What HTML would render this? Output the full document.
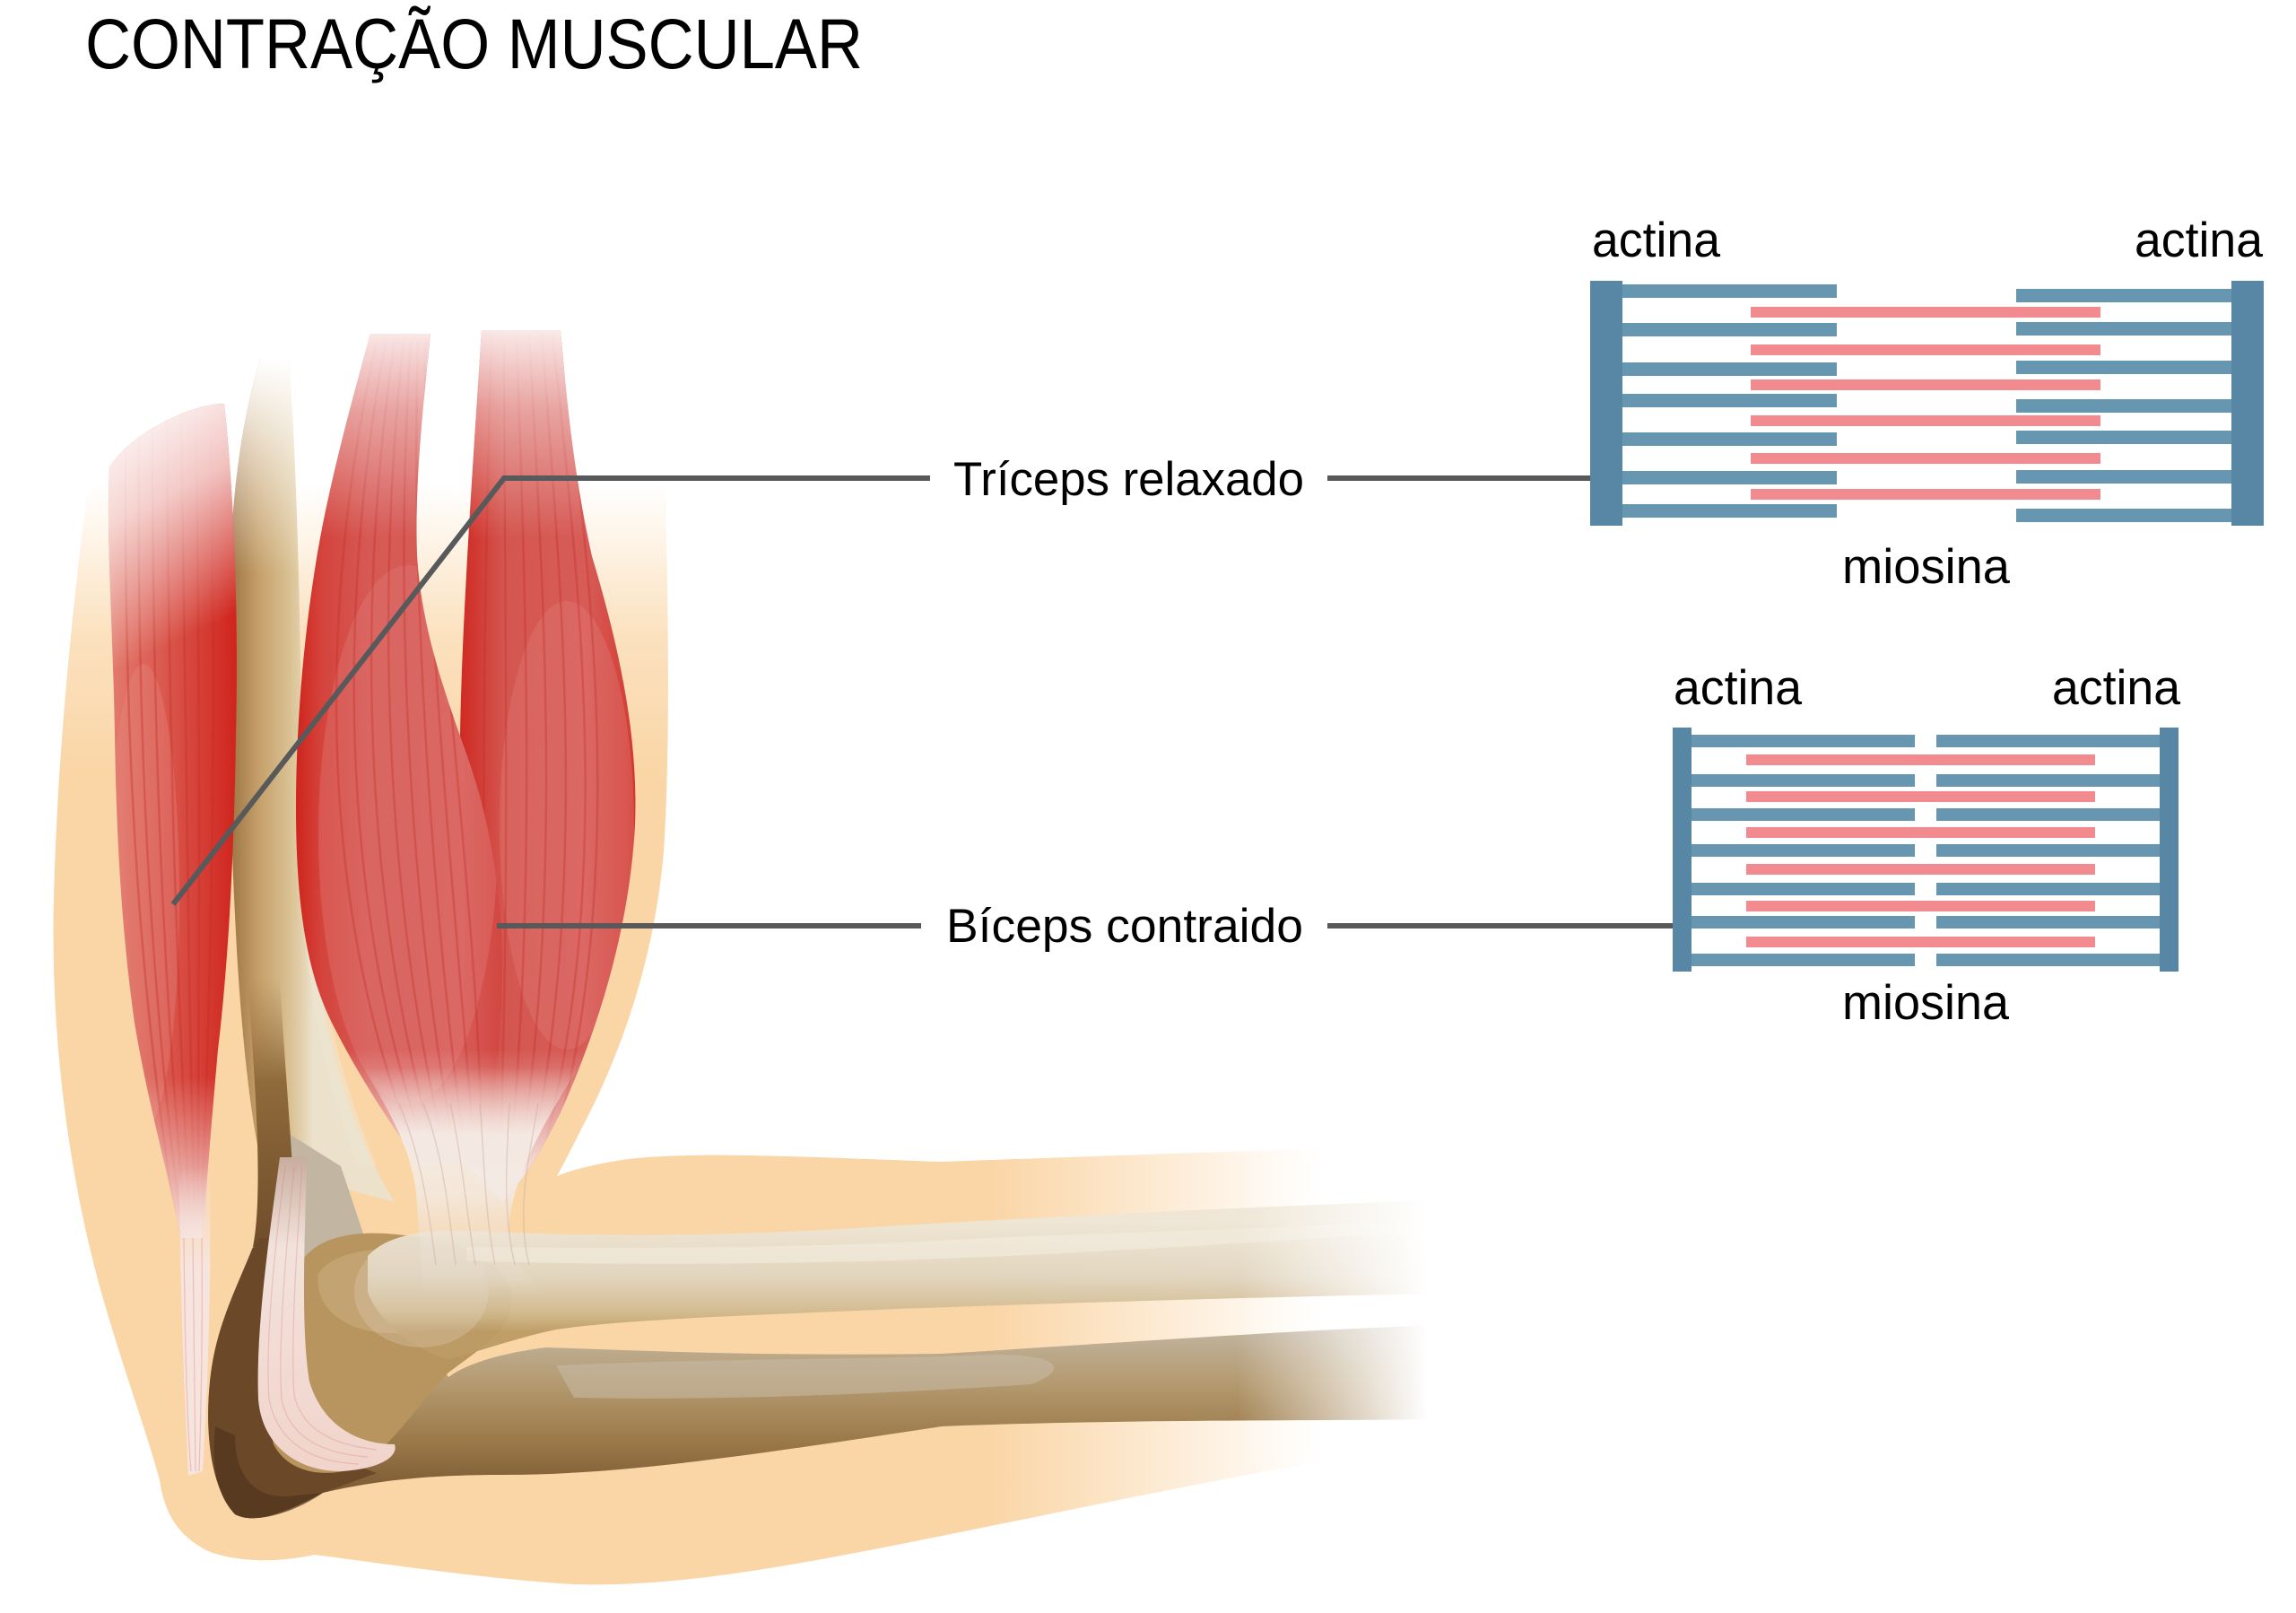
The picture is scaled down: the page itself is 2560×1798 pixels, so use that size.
<!DOCTYPE html>
<html>
<head>
<meta charset="utf-8">
<style>
html,body{margin:0;padding:0;background:#fff;}
body{width:2560px;height:1798px;overflow:hidden;}
svg{display:block;}
text{font-family:"Liberation Sans",Arial,sans-serif;fill:#000;}
</style>
</head>
<body>
<svg width="2560" height="1798" viewBox="0 0 2560 1798" xmlns="http://www.w3.org/2000/svg">
<defs>
  <!-- clip paths -->
  <clipPath id="cpTop"><rect x="0" y="0" width="2560" height="1000"/></clipPath>
  <clipPath id="cpBot"><rect x="0" y="1000" width="2560" height="798"/></clipPath>
  <clipPath id="cpTri"><path d="M 122 520 C 150 480, 215 450, 250 450 C 262 560, 266 700, 263 820 C 261 950, 255 1070, 243 1170 C 236 1250, 230 1320, 226 1380 L 202 1380 C 188 1310, 165 1230, 150 1140 C 136 1040, 130 940, 128 820 C 126 700, 118 600, 122 520 Z"/></clipPath>
  <clipPath id="cpBL"><path d="M 413 372 L 480 372 C 472 450, 462 540, 465 620 C 470 700, 495 770, 520 840 C 545 910, 560 990, 560 1080 C 560 1160, 550 1230, 540 1290 L 470 1300 C 440 1260, 400 1200, 370 1140 C 340 1080, 330 1000, 330 900 C 330 780, 345 650, 365 560 C 380 490, 400 420, 413 372 Z"/></clipPath>
  <clipPath id="cpBR"><path d="M 537 368 L 625 368 C 632 450, 640 530, 660 620 C 690 720, 712 820, 708 920 C 702 1030, 670 1140, 625 1240 C 600 1290, 580 1320, 560 1340 L 520 1300 C 530 1200, 535 1100, 530 1000 C 525 940, 515 880, 513 820 C 515 700, 525 550, 537 368 Z"/></clipPath>

  <!-- skin -->
  <linearGradient id="skinV" gradientUnits="userSpaceOnUse" x1="0" y1="540" x2="0" y2="870">
    <stop offset="0" stop-color="#fad5a5" stop-opacity="0"/>
    <stop offset="0.5" stop-color="#fad5a5" stop-opacity="0.7"/>
    <stop offset="1" stop-color="#fad5a5" stop-opacity="1"/>
  </linearGradient>
  <linearGradient id="skinH" gradientUnits="userSpaceOnUse" x1="1100" y1="0" x2="1475" y2="0">
    <stop offset="0" stop-color="#fad5a5" stop-opacity="1"/>
    <stop offset="1" stop-color="#fad5a5" stop-opacity="0"/>
  </linearGradient>

  <!-- white fades -->
  <linearGradient id="wTri" gradientUnits="userSpaceOnUse" x1="110" y1="450" x2="230" y2="700">
    <stop offset="0" stop-color="#fff" stop-opacity="1"/>
    <stop offset="0.45" stop-color="#fff" stop-opacity="0.7"/>
    <stop offset="1" stop-color="#fff" stop-opacity="0"/>
  </linearGradient>
  <linearGradient id="wBic" gradientUnits="userSpaceOnUse" x1="0" y1="362" x2="0" y2="600">
    <stop offset="0" stop-color="#fff" stop-opacity="0.9"/>
    <stop offset="0.4" stop-color="#fff" stop-opacity="0.45"/>
    <stop offset="1" stop-color="#fff" stop-opacity="0"/>
  </linearGradient>
  <linearGradient id="wHum" gradientUnits="userSpaceOnUse" x1="0" y1="400" x2="0" y2="640">
    <stop offset="0" stop-color="#fff" stop-opacity="1"/>
    <stop offset="1" stop-color="#fff" stop-opacity="0"/>
  </linearGradient>
  <linearGradient id="wRight" gradientUnits="userSpaceOnUse" x1="1380" y1="0" x2="1592" y2="0">
    <stop offset="0" stop-color="#fff" stop-opacity="0"/>
    <stop offset="1" stop-color="#fff" stop-opacity="1"/>
  </linearGradient>

  <!-- fills -->
  <linearGradient id="humG" gradientUnits="userSpaceOnUse" x1="255" y1="0" x2="350" y2="0">
    <stop offset="0" stop-color="#9a7242"/>
    <stop offset="0.35" stop-color="#c59f69"/>
    <stop offset="0.75" stop-color="#dbc497"/>
    <stop offset="1" stop-color="#ece2cc"/>
  </linearGradient>
  <linearGradient id="darkStrip" gradientUnits="userSpaceOnUse" x1="0" y1="1090" x2="0" y2="1420">
    <stop offset="0" stop-color="#a47e4c" stop-opacity="0"/>
    <stop offset="0.35" stop-color="#8f6a3b"/>
    <stop offset="1" stop-color="#6b4828"/>
  </linearGradient>
  <linearGradient id="triG" gradientUnits="userSpaceOnUse" x1="122" y1="0" x2="266" y2="0">
    <stop offset="0" stop-color="#e27b6e"/>
    <stop offset="0.4" stop-color="#da5a50"/>
    <stop offset="0.75" stop-color="#d43b32"/>
    <stop offset="1" stop-color="#cf231b"/>
  </linearGradient>
  <linearGradient id="triBot" gradientUnits="userSpaceOnUse" x1="0" y1="1200" x2="0" y2="1380">
    <stop offset="0" stop-color="#f8e8e4" stop-opacity="0"/>
    <stop offset="1" stop-color="#f8ebe7" stop-opacity="0.95"/>
  </linearGradient>
  <linearGradient id="triTend" gradientUnits="userSpaceOnUse" x1="0" y1="1300" x2="0" y2="1410">
    <stop offset="0" stop-color="#f6e4de" stop-opacity="0"/>
    <stop offset="1" stop-color="#f6e4de" stop-opacity="1"/>
  </linearGradient>
  <linearGradient id="bicLG" gradientUnits="userSpaceOnUse" x1="330" y1="0" x2="562" y2="0">
    <stop offset="0" stop-color="#cf241c"/>
    <stop offset="0.12" stop-color="#d4433b"/>
    <stop offset="0.35" stop-color="#d65955"/>
    <stop offset="0.8" stop-color="#d75c58"/>
    <stop offset="1" stop-color="#d2453f"/>
  </linearGradient>
  <linearGradient id="bicRG" gradientUnits="userSpaceOnUse" x1="513" y1="0" x2="712" y2="0">
    <stop offset="0" stop-color="#cf2a22"/>
    <stop offset="0.25" stop-color="#d45650"/>
    <stop offset="0.7" stop-color="#d75c58"/>
    <stop offset="0.93" stop-color="#d4423a"/>
    <stop offset="1" stop-color="#d0302a"/>
  </linearGradient>
  <linearGradient id="bicBot" gradientUnits="userSpaceOnUse" x1="0" y1="1170" x2="0" y2="1310">
    <stop offset="0" stop-color="#f6ebe6" stop-opacity="0"/>
    <stop offset="1" stop-color="#f7eee9" stop-opacity="0.96"/>
  </linearGradient>
  <linearGradient id="bicTend" gradientUnits="userSpaceOnUse" x1="0" y1="1190" x2="0" y2="1445">
    <stop offset="0" stop-color="#f5ece6" stop-opacity="0"/>
    <stop offset="0.3" stop-color="#f5ece6" stop-opacity="0.92"/>
    <stop offset="0.55" stop-color="#f3eae3" stop-opacity="0.85"/>
    <stop offset="0.8" stop-color="#ede3d8" stop-opacity="0.35"/>
    <stop offset="1" stop-color="#ede3d8" stop-opacity="0"/>
  </linearGradient>
  <linearGradient id="ulnaG" gradientUnits="userSpaceOnUse" x1="0" y1="1478" x2="0" y2="1692">
    <stop offset="0" stop-color="#c2b6a2"/>
    <stop offset="0.3" stop-color="#b49a70"/>
    <stop offset="0.6" stop-color="#9b7949"/>
    <stop offset="1" stop-color="#6c4a29"/>
  </linearGradient>
  <linearGradient id="radG" gradientUnits="userSpaceOnUse" x1="0" y1="1362" x2="0" y2="1485">
    <stop offset="0" stop-color="#eee6d6"/>
    <stop offset="0.5" stop-color="#e1d5bf"/>
    <stop offset="0.82" stop-color="#d1ba8f"/>
    <stop offset="1" stop-color="#bc9b64"/>
  </linearGradient>
  <linearGradient id="tendG" gradientUnits="userSpaceOnUse" x1="0" y1="1280" x2="0" y2="1645">
    <stop offset="0" stop-color="#c4a898"/>
    <stop offset="0.3" stop-color="#f2e2dc"/>
    <stop offset="1" stop-color="#f1d4cb"/>
  </linearGradient>
</defs>

<rect x="0" y="0" width="2560" height="1798" fill="#ffffff"/>

<!-- ================= ARM ================= -->
<!-- skin -->
<g clip-path="url(#cpTop)">
  <path fill="url(#skinV)" d="M 106 480 C 90 600, 65 800, 60 1000 C 56 1150, 75 1300, 110 1430 C 135 1520, 165 1600, 178 1650 C 184 1690, 200 1712, 230 1728 C 262 1742, 310 1742, 351 1733 C 420 1742, 540 1760, 640 1766 C 760 1770, 900 1742, 1050 1712 C 1200 1682, 1350 1650, 1480 1628 L 1620 1600 L 1620 1278 C 1450 1280, 1250 1288, 1050 1295 C 900 1290, 780 1283, 700 1292 C 660 1298, 635 1305, 621 1311 C 635 1285, 650 1255, 665 1225 C 700 1150, 730 1060, 740 950 C 748 830, 745 650, 740 480 Z"/>
</g>
<g clip-path="url(#cpBot)">
  <path fill="url(#skinH)" d="M 106 480 C 90 600, 65 800, 60 1000 C 56 1150, 75 1300, 110 1430 C 135 1520, 165 1600, 178 1650 C 184 1690, 200 1712, 230 1728 C 262 1742, 310 1742, 351 1733 C 420 1742, 540 1760, 640 1766 C 760 1770, 900 1742, 1050 1712 C 1200 1682, 1350 1650, 1480 1628 L 1620 1600 L 1620 1278 C 1450 1280, 1250 1288, 1050 1295 C 900 1290, 780 1283, 700 1292 C 660 1298, 635 1305, 621 1311 C 635 1285, 650 1255, 665 1225 C 700 1150, 730 1060, 740 950 C 748 830, 745 650, 740 480 Z"/>
</g>

<!-- humerus shaft -->
<path fill="url(#humG)" d="M 290 400 C 275 450, 262 520, 258 600 C 254 750, 256 900, 262 1020 C 268 1150, 280 1250, 292 1300 L 440 1340 C 405 1285, 372 1200, 357 1100 C 342 1000, 337 900, 336 800 C 334 650, 330 500, 322 400 Z"/>
<path fill="#efe6d4" opacity="0.55" d="M 338 900 C 345 1050, 370 1180, 420 1300 L 400 1300 C 365 1220, 340 1100, 332 950 Z"/>
<path fill="url(#wHum)" d="M 290 400 C 275 450, 262 520, 258 600 C 256 640, 255 660, 255 680 L 340 680 C 336 600, 330 500, 322 400 Z"/>

<!-- ulna -->
<path fill="url(#ulnaG)" d="M 300 1250 C 296 1300, 290 1350, 282 1390 C 262 1440, 240 1480, 234 1540 C 228 1600, 236 1660, 262 1688 C 285 1700, 320 1685, 360 1664 C 420 1650, 480 1644, 560 1644 C 700 1644, 850 1620, 1050 1590 C 1250 1582, 1450 1584, 1600 1582 L 1600 1477 C 1400 1485, 1200 1500, 1050 1509 C 850 1512, 700 1505, 609 1502 C 560 1508, 520 1520, 500 1535 L 420 1420 L 380 1300 Z"/>
<path fill="#c9bca8" opacity="0.55" d="M 620 1522 C 800 1514, 950 1516, 1100 1510 C 1180 1508, 1195 1526, 1150 1543 C 1000 1553, 800 1562, 640 1558 Z"/>

<!-- humerus dark strip + olecranon -->
<path fill="url(#darkStrip)" d="M 276 1090 C 284 1200, 294 1330, 282 1390 L 330 1390 C 328 1300, 318 1200, 312 1090 Z"/>
<path fill="#6b4828" d="M 288 1380 C 284 1390, 283 1392, 282 1390 C 262 1440, 240 1480, 234 1540 C 228 1600, 236 1660, 262 1688 C 285 1700, 320 1685, 360 1664 L 420 1642 C 360 1622, 322 1582, 312 1500 C 308 1450, 318 1410, 330 1380 Z"/>
<path fill="#4f341c" opacity="0.7" d="M 262 1600 C 262 1640, 280 1670, 320 1668 L 360 1664 C 330 1685, 285 1700, 262 1688 C 240 1665, 236 1630, 240 1590 Z"/>

<!-- condyle -->
<path fill="#b8955f" d="M 330 1420 C 340 1385, 380 1372, 430 1375 C 500 1380, 560 1400, 570 1440 C 575 1480, 540 1500, 500 1530 C 470 1560, 440 1610, 400 1635 C 360 1650, 320 1640, 305 1610 C 292 1560, 300 1470, 330 1420 Z"/>
<path fill="#c7a979" opacity="0.7" d="M 355 1420 C 370 1395, 420 1388, 470 1395 C 520 1402, 545 1425, 540 1450 C 520 1480, 470 1490, 420 1485 C 380 1480, 350 1455, 355 1420 Z"/>

<!-- radius -->
<path fill="url(#radG)" opacity="0.95" d="M 410 1400 C 430 1378, 470 1370, 520 1372 C 650 1378, 800 1380, 1000 1366 C 1200 1355, 1400 1345, 1600 1338 L 1600 1442 C 1400 1446, 1200 1452, 1000 1459 C 850 1466, 700 1470, 620 1482 C 580 1490, 540 1505, 500 1515 C 460 1505, 420 1470, 410 1440 Z"/>
<path fill="#f3ede0" opacity="0.6" d="M 520 1390 C 700 1392, 900 1392, 1100 1380 C 1300 1372, 1400 1370, 1600 1360 L 1600 1372 C 1400 1385, 1200 1398, 1000 1405 C 800 1410, 650 1410, 520 1405 Z"/>
<ellipse cx="470" cy="1440" rx="75" ry="62" fill="#e6ddd0" opacity="0.25"/>

<!-- right fade of forearm -->
<rect x="1378" y="1270" width="242" height="360" fill="url(#wRight)"/>

<!-- ===== muscles ===== -->
<!-- triceps -->
<path fill="url(#triG)" d="M 122 520 C 150 480, 215 450, 250 450 C 262 560, 266 700, 263 820 C 261 950, 255 1070, 243 1170 C 236 1250, 230 1320, 226 1380 L 202 1380 C 188 1310, 165 1230, 150 1140 C 136 1040, 130 940, 128 820 C 126 700, 118 600, 122 520 Z"/>
<g clip-path="url(#cpTri)">
  <ellipse cx="160" cy="1000" rx="40" ry="260" fill="#e48a80" opacity="0.35"/>
  <g fill="none" stroke="#c22a24" stroke-opacity="0.35" stroke-width="2.5">
    <path d="M 140 480 C 138 800, 150 1100, 206 1420"/>
    <path d="M 155 470 C 152 800, 165 1100, 209 1420"/>
    <path d="M 170 465 C 170 800, 180 1100, 212 1420"/>
    <path d="M 186 460 C 188 800, 196 1100, 215 1420"/>
    <path d="M 202 458 C 206 800, 210 1100, 218 1420"/>
    <path d="M 218 455 C 224 800, 222 1100, 220 1420"/>
    <path d="M 234 453 C 242 800, 236 1100, 222 1420"/>
  </g>
  <rect x="100" y="1150" width="200" height="260" fill="url(#triBot)"/>
  <rect x="100" y="430" width="200" height="420" fill="url(#wTri)"/>
</g>
<!-- triceps tendon -->
<path fill="url(#triTend)" d="M 200 1300 L 234 1300 C 236 1420, 232 1540, 226 1640 L 210 1645 C 205 1540, 200 1420, 200 1300 Z"/>
<g fill="none" stroke="#d9625a" stroke-opacity="0.3" stroke-width="1.2">
  <path d="M 205 1380 C 206 1480, 208 1580, 213 1640"/>
  <path d="M 215 1380 C 216 1480, 217 1580, 218 1640"/>
  <path d="M 225 1380 C 226 1480, 224 1580, 222 1640"/>
</g>

<!-- biceps right head -->
<path fill="url(#bicRG)" d="M 537 368 L 625 368 C 632 450, 640 530, 660 620 C 690 720, 712 820, 708 920 C 702 1030, 670 1140, 625 1240 C 600 1290, 580 1320, 560 1340 L 520 1300 C 530 1200, 535 1100, 530 1000 C 525 940, 515 880, 513 820 C 515 700, 525 550, 537 368 Z"/>
<g clip-path="url(#cpBR)">
  <ellipse cx="632" cy="920" rx="75" ry="250" fill="#e27e7c" opacity="0.35"/>
  <g fill="none" stroke="#c22a24" stroke-opacity="0.33" stroke-width="2.5">
    <path d="M 548 372 C 540 650, 535 1000, 545 1320"/>
    <path d="M 562 372 C 562 650, 570 1000, 556 1320"/>
    <path d="M 576 372 C 585 650, 600 1000, 566 1320"/>
    <path d="M 590 372 C 605 650, 630 1000, 576 1320"/>
    <path d="M 604 372 C 625 650, 660 1000, 586 1320"/>
    <path d="M 616 372 C 645 650, 690 1000, 596 1320"/>
    <path d="M 626 380 C 660 650, 705 1000, 606 1320"/>
  </g>
  <rect x="500" y="1160" width="230" height="200" fill="url(#bicBot)"/>
  <rect x="500" y="360" width="230" height="250" fill="url(#wBic)"/>
</g>

<!-- biceps left head -->
<path fill="url(#bicLG)" d="M 413 372 L 480 372 C 472 450, 462 540, 465 620 C 470 700, 495 770, 520 840 C 545 910, 560 990, 560 1080 C 560 1160, 550 1230, 540 1290 L 470 1300 C 440 1260, 400 1200, 370 1140 C 340 1080, 330 1000, 330 900 C 330 780, 345 650, 365 560 C 380 490, 400 420, 413 372 Z"/>
<g clip-path="url(#cpBL)">
  <ellipse cx="455" cy="930" rx="100" ry="300" fill="#e27e7c" opacity="0.35"/>
  <g fill="none" stroke="#c22a24" stroke-opacity="0.33" stroke-width="2.5">
    <path d="M 420 380 C 360 650, 345 1000, 470 1300"/>
    <path d="M 430 380 C 380 650, 372 1000, 480 1300"/>
    <path d="M 440 380 C 400 650, 399 1000, 490 1300"/>
    <path d="M 450 380 C 420 650, 426 1000, 500 1300"/>
    <path d="M 458 380 C 440 650, 453 1000, 510 1300"/>
    <path d="M 466 380 C 458 650, 480 1000, 520 1300"/>
    <path d="M 474 380 C 470 650, 507 1000, 530 1300"/>
    <path d="M 478 380 C 478 650, 534 1000, 538 1300"/>
  </g>
  <rect x="320" y="1160" width="250" height="160" fill="url(#bicBot)"/>
  <rect x="320" y="360" width="250" height="250" fill="url(#wBic)"/>
</g>

<!-- biceps tendon -->
<path fill="url(#bicTend)" d="M 405 1190 C 435 1240, 458 1280, 464 1330 C 468 1380, 470 1420, 472 1445 L 606 1445 C 585 1420, 568 1395, 567 1370 C 570 1320, 600 1260, 645 1190 Z"/>
<g fill="none" stroke="#c9a894" stroke-opacity="0.4" stroke-width="1.5">
  <path d="M 445 1230 C 470 1290, 478 1350, 486 1410"/>
  <path d="M 472 1230 C 495 1290, 500 1350, 508 1410"/>
  <path d="M 502 1230 C 515 1290, 520 1350, 530 1410"/>
  <path d="M 535 1230 C 540 1290, 540 1350, 552 1410"/>
  <path d="M 568 1230 C 565 1290, 560 1350, 574 1410"/>
  <path d="M 600 1230 C 590 1290, 575 1350, 590 1410"/>
</g>

<!-- elbow tendon band -->
<path fill="url(#tendG)" d="M 312 1290 C 300 1380, 285 1480, 288 1560 C 292 1610, 330 1640, 380 1640 C 420 1638, 445 1625, 440 1610 C 400 1610, 360 1590, 345 1540 C 335 1480, 340 1380, 342 1290 Z"/>
<g fill="none" stroke="#d9857c" stroke-opacity="0.35" stroke-width="1.2">
  <path d="M 318 1300 C 305 1400, 296 1500, 300 1560 C 310 1610, 350 1630, 400 1632"/>
  <path d="M 328 1300 C 318 1400, 310 1500, 314 1560 C 322 1600, 356 1620, 410 1624"/>
  <path d="M 337 1300 C 330 1400, 324 1500, 328 1555 C 336 1590, 365 1610, 420 1616"/>
</g>

<!-- connector lines -->
<g fill="none" stroke="#58595b" stroke-width="6">
  <polyline points="193,1008 562,533 1037,533"/>
  <line x1="1480" y1="533" x2="1775" y2="533"/>
  <line x1="554" y1="1032" x2="1027" y2="1032"/>
  <line x1="1480" y1="1032" x2="1866" y2="1032"/>
</g>

<!-- ================= TEXT ================= -->
<text x="95" y="76" font-size="79" textLength="867" lengthAdjust="spacingAndGlyphs">CONTRAÇÃO MUSCULAR</text>
<text x="1063" y="552" font-size="53" textLength="391" lengthAdjust="spacingAndGlyphs">Tríceps relaxado</text>
<text x="1055" y="1050" font-size="53" textLength="398" lengthAdjust="spacingAndGlyphs">Bíceps contraido</text>

<text x="1775" y="286" font-size="55" textLength="143" lengthAdjust="spacingAndGlyphs">actina</text>
<text x="2380" y="286" font-size="55" textLength="143" lengthAdjust="spacingAndGlyphs">actina</text>
<text x="2054" y="650" font-size="55" textLength="187" lengthAdjust="spacingAndGlyphs">miosina</text>

<text x="1866" y="785" font-size="55" textLength="143" lengthAdjust="spacingAndGlyphs">actina</text>
<text x="2288" y="785" font-size="55" textLength="143" lengthAdjust="spacingAndGlyphs">actina</text>
<text x="2054" y="1136" font-size="55" textLength="186" lengthAdjust="spacingAndGlyphs">miosina</text>

<!-- ================= SARCOMERE 1 (relaxed) ================= -->
<g>
  <g fill="#6796b1">
    <rect x="1809" y="317" width="239" height="15"/>
    <rect x="1809" y="360" width="239" height="15"/>
    <rect x="1809" y="404" width="239" height="15"/>
    <rect x="1809" y="439" width="239" height="15"/>
    <rect x="1809" y="482" width="239" height="15"/>
    <rect x="1809" y="525" width="239" height="15"/>
    <rect x="1809" y="562" width="239" height="15"/>
    <rect x="2248" y="322" width="240" height="15"/>
    <rect x="2248" y="359" width="240" height="15"/>
    <rect x="2248" y="402" width="240" height="15"/>
    <rect x="2248" y="445" width="240" height="15"/>
    <rect x="2248" y="480" width="240" height="15"/>
    <rect x="2248" y="524" width="240" height="15"/>
    <rect x="2248" y="567" width="240" height="15"/>
  </g>
  <g fill="#f28b8f">
    <rect x="1952" y="342" width="390" height="12"/>
    <rect x="1952" y="384" width="390" height="12"/>
    <rect x="1952" y="423" width="390" height="12"/>
    <rect x="1952" y="463" width="390" height="12"/>
    <rect x="1952" y="505" width="390" height="12"/>
    <rect x="1952" y="545" width="390" height="12"/>
  </g>
  <g fill="#5787a4">
    <rect x="1773" y="313" width="36" height="273"/>
    <rect x="2488" y="313" width="36" height="273"/>
  </g>
</g>

<!-- ================= SARCOMERE 2 (contracted) ================= -->
<g>
  <g fill="#6796b1">
    <rect x="1886" y="819" width="249" height="14"/>
    <rect x="1886" y="863" width="249" height="14"/>
    <rect x="1886" y="901" width="249" height="14"/>
    <rect x="1886" y="941" width="249" height="14"/>
    <rect x="1886" y="984" width="249" height="14"/>
    <rect x="1886" y="1021" width="249" height="14"/>
    <rect x="1886" y="1063" width="249" height="14"/>
    <rect x="2159" y="819" width="250" height="14"/>
    <rect x="2159" y="863" width="250" height="14"/>
    <rect x="2159" y="901" width="250" height="14"/>
    <rect x="2159" y="941" width="250" height="14"/>
    <rect x="2159" y="984" width="250" height="14"/>
    <rect x="2159" y="1021" width="250" height="14"/>
    <rect x="2159" y="1063" width="250" height="14"/>
  </g>
  <g fill="#f28b8f">
    <rect x="1947" y="841" width="389" height="12"/>
    <rect x="1947" y="882" width="389" height="12"/>
    <rect x="1947" y="922" width="389" height="12"/>
    <rect x="1947" y="963" width="389" height="12"/>
    <rect x="1947" y="1004" width="389" height="12"/>
    <rect x="1947" y="1044" width="389" height="12"/>
  </g>
  <g fill="#5787a4">
    <rect x="1865" y="811" width="21" height="272"/>
    <rect x="2408" y="811" width="21" height="272"/>
  </g>
</g>
</svg>
</body>
</html>
